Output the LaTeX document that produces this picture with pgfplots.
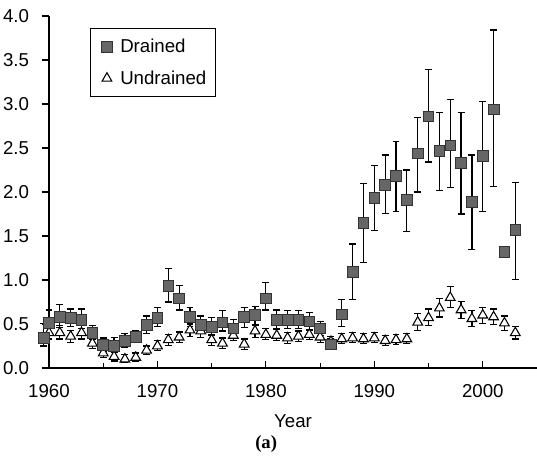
\documentclass[border=0pt]{standalone}
\usepackage{fontspec}
\setmainfont{Liberation Sans}
\newfontfamily\capfont{Liberation Serif}
\usepackage{pgfplots}
\pgfplotsset{compat=1.18}
\usepackage{pgfplotstable}

% year, mean, error up, error down
\pgfplotstableread{
x y ep em
1959.5 0.34 0.17 0.09
1960 0.51 0.15 0.12
1961 0.58 0.14 0.12
1962 0.57 0.10 0.10
1963 0.55 0.12 0.10
1964 0.40 0.08 0.08
1965 0.26 0.08 0.07
1966 0.25 0.10 0.07
1967 0.31 0.08 0.08
1968 0.35 0.07 0.06
1969 0.49 0.10 0.10
1970 0.57 0.12 0.10
1971 0.93 0.20 0.18
1972 0.79 0.15 0.13
1973 0.58 0.11 0.11
1974 0.49 0.10 0.10
1975 0.47 0.10 0.10
1976 0.52 0.13 0.10
1977 0.45 0.10 0.10
1978 0.58 0.11 0.12
1979 0.60 0.10 0.12
1980 0.79 0.18 0.13
1981 0.55 0.11 0.10
1982 0.55 0.10 0.10
1983 0.55 0.10 0.10
1984 0.53 0.10 0.10
1985 0.45 0.08 0.08
1986 0.27 0.06 0.06
1987 0.61 0.17 0.14
1988 1.09 0.32 0.31
1989 1.65 0.45 0.45
1990 1.93 0.37 0.37
1991 2.08 0.34 0.32
1992 2.18 0.39 0.40
1993 1.91 0.34 0.36
1994 2.44 0.41 0.44
1995 2.86 0.53 0.52
1996 2.47 0.43 0.45
1997 2.53 0.52 0.48
1998 2.33 0.57 0.58
1999 1.89 0.53 0.54
2000 2.41 0.62 0.63
2001 2.94 0.90 0.88
2002 1.32 0.00 0.00
2003 1.57 0.54 0.56
}\drained

\pgfplotstableread{
x y ep em
1960 0.40 0.07 0.07
1961 0.40 0.08 0.07
1962 0.36 0.07 0.07
1963 0.40 0.08 0.07
1964 0.28 0.06 0.06
1965 0.17 0.06 0.05
1966 0.13 0.05 0.05
1967 0.10 0.05 0.04
1968 0.12 0.05 0.04
1969 0.20 0.05 0.05
1970 0.25 0.06 0.05
1971 0.32 0.06 0.06
1972 0.35 0.06 0.06
1973 0.43 0.07 0.07
1974 0.42 0.07 0.07
1975 0.32 0.06 0.06
1976 0.28 0.06 0.06
1977 0.37 0.07 0.06
1978 0.27 0.06 0.06
1979 0.42 0.07 0.07
1980 0.38 0.07 0.06
1981 0.37 0.07 0.06
1982 0.34 0.06 0.06
1983 0.36 0.06 0.06
1984 0.38 0.06 0.06
1985 0.35 0.06 0.06
1986 0.30 0.06 0.05
1987 0.33 0.06 0.05
1988 0.34 0.06 0.05
1989 0.33 0.06 0.05
1990 0.34 0.06 0.05
1991 0.31 0.06 0.05
1992 0.32 0.06 0.05
1993 0.33 0.06 0.05
1994 0.52 0.10 0.09
1995 0.57 0.10 0.09
1996 0.68 0.11 0.10
1997 0.80 0.13 0.11
1998 0.66 0.10 0.10
1999 0.56 0.09 0.09
2000 0.60 0.09 0.09
2001 0.58 0.09 0.09
2002 0.51 0.08 0.08
2003 0.40 0.07 0.07
}\undrained

\begin{document}
\begin{tikzpicture}[font=\fontsize{14}{16.8}\selectfont]
\begin{axis}[
  width=366pt, height=264pt, scale only axis,
  xmin=1960, xmax=2005, ymin=0, ymax=4,
  clip=false,
  axis lines=left,
  axis line style={-, line width=1pt},
  xtick={1960,1970,...,2000},
  minor xtick={1965,1975,...,1995},
  xtick align=inside,
  ytick align=outside,
  major tick length=5.5pt,
  minor tick length=4pt,
  ytick={0,0.5,...,4},
  xticklabel style={yshift=-9pt, /pgf/number format/1000 sep={}},
  yticklabel style={xshift=-6pt, /pgf/number format/.cd, fixed, fixed zerofill, precision=1},
  /pgf/number format/assume math mode=true,
  xlabel={Year},
  xlabel style={yshift=-6pt},
  tick style={black, line width=0.8pt},
  legend image code/.code={
    \path (-0.1cm,0cm) (0.42cm,0cm);
    \draw[#1] plot coordinates {(0.15cm,0cm)};},
  legend style={at={(0.084,0.966)}, anchor=north west, draw=black,
    line width=0.6pt, inner xsep=5pt, inner ysep=6pt,
    row sep=8pt, font=\fontsize{14}{16.8}\selectfont},
  legend cell align=left,
  reverse legend,
  error bars/error bar style={black, line width=0.9pt},
  error bars/error mark options={rotate=90, black, line width=0.9pt, mark size=2.6pt},
]
\addplot[only marks, mark=triangle*, mark size=4.2pt,
  mark options={fill=white, draw=black, line width=0.8pt},
  error bars/.cd, y dir=both, y explicit]
  table[x=x, y=y, y error plus=ep, y error minus=em] {\undrained};
\addlegendentry{Undrained}
\addplot[only marks, mark=square*, mark size=4pt,
  mark options={fill=black!60, draw=black!80, line width=0.6pt},
  error bars/.cd, y dir=both, y explicit]
  table[x=x, y=y, y error plus=ep, y error minus=em] {\drained};
\addlegendentry{Drained}
\node[font=\capfont\bfseries\fontsize{14}{16}\selectfont] at (rel axis cs:0.445,-0.217) {(a)};
\end{axis}
% frame as in the scan: the y labels run off the left edge
\pgfresetboundingbox
\path[use as bounding box] (-36.75pt,-72pt) rectangle (366pt,276pt);
\end{tikzpicture}
\end{document}
